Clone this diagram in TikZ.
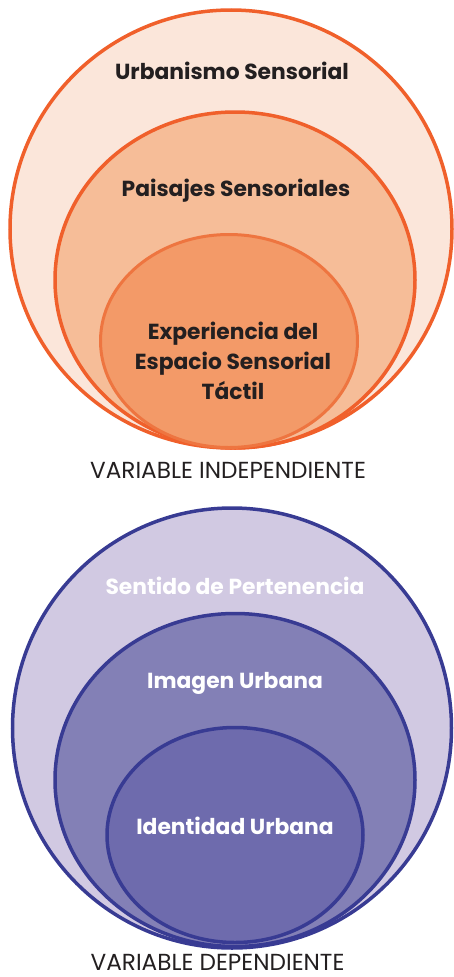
\documentclass[tikz,border=0pt]{standalone}
\usepackage{fontspec}
\setmainfont{Poppins}
\usetikzlibrary{shapes.geometric}
\definecolor{oline}{HTML}{F0602B}
\definecolor{oline2}{HTML}{EE7540}
\definecolor{ofill1}{HTML}{FBE6DA}
\definecolor{ofill2}{HTML}{F6BD98}
\definecolor{ofill3}{HTML}{F39A68}
\definecolor{pline}{HTML}{383B93}
\definecolor{pfill1}{HTML}{D1C9E2}
\definecolor{pfill2}{HTML}{8380B6}
\definecolor{pfill3}{HTML}{6E6BAD}
\definecolor{txt}{HTML}{231F20}
\tikzset{
  ring/.style args={#1/#2}{ellipse, inner sep=0pt, minimum width=#1pt, minimum height=#2pt},
  olab/.style={font=\bfseries\fontsize{21.8}{30}\selectfont, text=txt, align=center, inner sep=0pt},
  plab/.style={font=\bfseries\fontsize{21.8}{30}\selectfont, text=white, align=center, inner sep=0pt},
  caption/.style={font=\fontsize{23.2}{26}\selectfont, text=txt, inner sep=0pt, anchor=base, text depth=0pt}
}
\begin{document}
\begin{tikzpicture}[x=1pt,y=-1pt]
\useasboundingbox (0,0) rectangle (453,977);
% top group
\node[ring=442/438, draw=oline, fill=ofill1, line width=3.5pt] (o1) at (231,229) {};
\node[ring=360/336, draw=oline, fill=ofill2, line width=3.5pt] (o2) at (235,280) {};
\node[ring=257/213, draw=oline2, fill=ofill3, line width=3pt] (o3) at (229,341) {};
\node[olab] (t1) at (232,71) {Urbanismo Sensorial};
\node[olab] (t2) at (236,191) {Paisajes Sensoriales};
\node[olab] (t3) at (233,361) {Experiencia del\\Espacio Sensorial\\Táctil};
\node[caption] (c1) at (228,478.5) {VARIABLE INDEPENDIENTE};
% bottom group
\node[ring=439/440, draw=pline, fill=pfill1, line width=3.5pt] (p1) at (232,728) {};
\node[ring=360/333, draw=pline, fill=pfill2, line width=3.5pt] (p2) at (235,780) {};
\node[ring=256/215, draw=pline, fill=pfill3, line width=3.5pt] (p3) at (235,835) {};
\node[plab] (s1) at (235,586) {Sentido de Pertenencia};
\node[plab] (s2) at (235,683) {Imagen Urbana};
\node[plab] (s3) at (235,826) {Identidad Urbana};
\node[caption] (c2) at (217.5,970.5) {VARIABLE DEPENDIENTE};
\end{tikzpicture}
\end{document}
